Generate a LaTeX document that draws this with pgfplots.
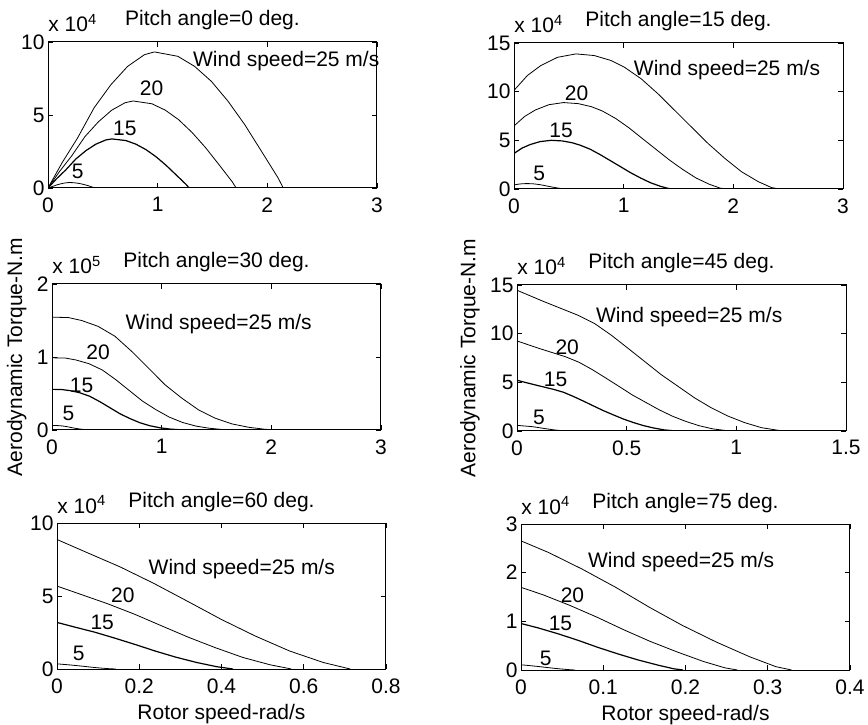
\documentclass[border=0pt]{standalone}
\usepackage{fontspec}
\setmainfont{Liberation Sans}
\usepackage{pgfplots}
\pgfplotsset{compat=1.18}
\pgfplotsset{mystyle/.style={
  width=164.5pt, height=73pt, scale only axis,
  anchor=south west,
  axis line style={line width=0.5pt, black},
  tick pos=both, tick align=inside, major tick length=2.5pt,
  tick style={line width=0.4pt, black},
  enlargelimits=false, scaled ticks=false,
  /pgf/number format/assume math mode=true,
  /pgf/number format/fixed,
  clip mode=individual,
  cycle list={{black, mark=none, line width=0.6pt, smooth, tension=0.35}},
  no markers,
  title style={anchor=base, yshift=2pt, inner sep=0pt},
  yticklabel style={inner sep=1.5pt},
  xticklabel style={inner sep=2pt, yshift=-2.5pt},
}}
\newcommand{\mult}[1]{\node[anchor=base west, inner sep=0pt, yshift=5pt] at (rel axis cs:0,1) {x 10\textsuperscript{#1}};}
\begin{document}
\fontsize{10.5}{12}\selectfont
\begin{tikzpicture}
\useasboundingbox (0,0) rectangle (434pt,362pt);
% ---------------- Pitch 0
\begin{axis}[mystyle, at={(24pt,268pt)}, xmin=0,xmax=3,ymin=0,ymax=10,
  xtick={0,1,2,3}, ytick={0,5,10}, title={Pitch angle=0 deg.}]
\addplot coordinates {(0,0) (0.13,1.75) (0.269,3.42) (0.421,5.50) (0.574,7.08) (0.726,8.33) (0.879,9.13) (0.970,9.32) (1.184,9.02) (1.337,8.33) (1.489,7.31) (1.642,5.94) (1.794,4.34) (1.947,2.51) (2.099,0.68) (2.145,0)};
\addplot coordinates {(0,0) (0.104,1.12) (0.215,2.19) (0.337,3.52) (0.459,4.53) (0.581,5.33) (0.703,5.84) (0.776,5.96) (0.947,5.77) (1.070,5.33) (1.191,4.68) (1.314,3.80) (1.435,2.78) (1.558,1.61) (1.679,0.435) (1.716,0)};
\addplot coordinates {(0,0) (0.078,0.63) (0.161,1.23) (0.253,1.98) (0.344,2.55) (0.436,3.00) (0.527,3.29) (0.582,3.36) (0.710,3.25) (0.802,3.00) (0.893,2.63) (0.985,2.14) (1.076,1.56) (1.168,0.90) (1.259,0.245) (1.287,0)};
\addplot coordinates {(0,0) (0.026,0.07) (0.054,0.137) (0.084,0.22) (0.115,0.283) (0.145,0.333) (0.176,0.365) (0.194,0.373) (0.237,0.361) (0.267,0.333) (0.298,0.292) (0.328,0.238) (0.359,0.174) (0.389,0.100) (0.420,0.027) (0.429,0)};
\node[anchor=west, inner sep=0pt] at (axis cs:1.32,8.7) {Wind speed=25 m/s};
\node[inner sep=0pt] at (axis cs:0.945,6.8) {20};
\node[inner sep=0pt] at (axis cs:0.70,4.1) {15};
\node[inner sep=0pt] at (axis cs:0.27,1.12) {5};
\mult{4}
\end{axis}
% ---------------- Pitch 15
\begin{axis}[mystyle, at={(257pt,267.5pt)}, xmin=0,xmax=3,ymin=0,ymax=15,
  xtick={0,1,2,3}, ytick={0,5,10,15}, title={Pitch angle=15 deg.}]
\addplot coordinates {(0,10.13) (0.122,11.66) (0.244,12.68) (0.397,13.53) (0.565,13.88) (0.732,13.71) (0.885,13.20) (1.007,12.51) (1.160,11.32) (1.312,9.79) (1.465,8.08) (1.617,6.38) (1.770,4.67) (1.923,3.14) (2.075,1.77) (2.228,0.75) (2.350,0.14) (2.426,0)};
\addplot coordinates {(0,6.48) (0.098,7.46) (0.195,8.12) (0.318,8.66) (0.452,8.88) (0.586,8.77) (0.708,8.45) (0.806,8.01) (0.928,7.24) (1.050,6.27) (1.172,5.17) (1.294,4.08) (1.416,2.99) (1.538,2.01) (1.660,1.13) (1.782,0.48) (1.880,0.09) (1.941,0)};
\addplot coordinates {(0,3.65) (0.073,4.20) (0.146,4.56) (0.238,4.87) (0.339,5.00) (0.439,4.94) (0.531,4.75) (0.604,4.50) (0.696,4.08) (0.787,3.52) (0.879,2.91) (0.970,2.30) (1.062,1.68) (1.154,1.13) (1.245,0.64) (1.337,0.27) (1.410,0.05) (1.456,0)};
\addplot coordinates {(0,0.405) (0.024,0.466) (0.049,0.507) (0.079,0.541) (0.113,0.555) (0.146,0.548) (0.177,0.528) (0.201,0.500) (0.232,0.453) (0.262,0.392) (0.293,0.323) (0.323,0.255) (0.354,0.187) (0.385,0.126) (0.415,0.071) (0.446,0.030) (0.470,0.006) (0.485,0)};
\node[anchor=west, inner sep=0pt] at (axis cs:1.09,12.2) {Wind speed=25 m/s};
\node[inner sep=0pt] at (axis cs:0.57,9.83) {20};
\node[inner sep=0pt] at (axis cs:0.43,6.06) {15};
\node[inner sep=0pt] at (axis cs:0.23,1.6) {5};
\mult{4}
\end{axis}
% ---------------- Pitch 30
\begin{axis}[mystyle, at={(26pt,147pt)}, xmin=0,xmax=3,ymin=0,ymax=2,
  xtick={0,1,2,3}, ytick={0,1,2}, title={Pitch angle=30 deg.},
  ylabel={Aerodynamic Torque-N.m}]
\addplot coordinates {(0,1.546) (0.15,1.54) (0.27,1.50) (0.42,1.42) (0.574,1.284) (0.726,1.078) (0.879,0.849) (1.031,0.619) (1.184,0.436) (1.337,0.275) (1.489,0.161) (1.642,0.083) (1.794,0.037) (1.947,0.009) (2.1,0)};
\addplot coordinates {(0,0.989) (0.12,0.986) (0.216,0.960) (0.336,0.909) (0.459,0.822) (0.581,0.690) (0.703,0.543) (0.825,0.396) (0.947,0.279) (1.070,0.176) (1.191,0.103) (1.314,0.053) (1.435,0.024) (1.558,0.006) (1.68,0)};
\addplot coordinates {(0,0.557) (0.09,0.554) (0.162,0.540) (0.252,0.511) (0.344,0.462) (0.436,0.388) (0.527,0.306) (0.619,0.223) (0.710,0.157) (0.802,0.099) (0.893,0.058) (0.985,0.030) (1.076,0.013) (1.168,0.003) (1.26,0)};
\addplot coordinates {(0,0.0618) (0.03,0.0616) (0.054,0.060) (0.084,0.0568) (0.115,0.0514) (0.145,0.0431) (0.176,0.034) (0.206,0.0248) (0.237,0.0174) (0.267,0.011) (0.298,0.0064) (0.328,0.0033) (0.359,0.0015) (0.389,0.0004) (0.42,0)};
\node[anchor=west, inner sep=0pt] at (axis cs:0.667,1.45) {Wind speed=25 m/s};
\node[inner sep=0pt] at (axis cs:0.42,1.065) {20};
\node[inner sep=0pt] at (axis cs:0.27,0.61) {15};
\node[inner sep=0pt] at (axis cs:0.15,0.23) {5};
\mult{5}
\end{axis}
% ---------------- Pitch 45
\begin{axis}[mystyle, at={(258.5pt,146.5pt)}, xmin=0,xmax=1.5,ymin=0,ymax=15,
  xtick={0,0.5,1,1.5}, ytick={0,5,10,15}, title={Pitch angle=45 deg.},
  ylabel={Aerodynamic Torque-N.m}]
\addplot coordinates {(0,14.46) (0.125,13.27) (0.277,11.9) (0.353,11.05) (0.429,9.86) (0.506,8.5) (0.582,7.14) (0.658,5.78) (0.734,4.59) (0.810,3.40) (0.886,2.38) (0.962,1.53) (1.039,0.85) (1.115,0.34) (1.191,0.07) (1.221,0)};
\addplot coordinates {(0,9.25) (0.1,8.49) (0.222,7.62) (0.282,7.07) (0.343,6.31) (0.405,5.44) (0.466,4.57) (0.526,3.70) (0.587,2.94) (0.648,2.18) (0.709,1.52) (0.770,0.98) (0.831,0.54) (0.892,0.22) (0.953,0.045) (0.977,0)};
\addplot coordinates {(0,5.21) (0.075,4.78) (0.166,4.28) (0.212,3.98) (0.257,3.55) (0.304,3.06) (0.349,2.57) (0.395,2.08) (0.440,1.65) (0.486,1.22) (0.532,0.86) (0.577,0.55) (0.623,0.31) (0.669,0.12) (0.715,0.025) (0.733,0)};
\addplot coordinates {(0,0.578) (0.025,0.531) (0.055,0.476) (0.071,0.442) (0.086,0.394) (0.101,0.34) (0.116,0.286) (0.132,0.231) (0.147,0.184) (0.162,0.136) (0.177,0.095) (0.192,0.061) (0.208,0.034) (0.223,0.014) (0.238,0.003) (0.244,0)};
\node[anchor=west, inner sep=0pt] at (axis cs:0.359,11.66) {Wind speed=25 m/s};
\node[inner sep=0pt] at (axis cs:0.229,8.6) {20};
\node[inner sep=0pt] at (axis cs:0.176,5.34) {15};
\node[inner sep=0pt] at (axis cs:0.1,1.39) {5};
\mult{4}
\end{axis}
% ---------------- Pitch 60
\begin{axis}[mystyle, at={(28.5pt,27.5pt)}, xmin=0,xmax=0.8,ymin=0,ymax=10,
  xtick={0,0.2,0.4,0.6,0.8}, ytick={0,5,10}, title={Pitch angle=60 deg.},
  xlabel={Rotor speed-rad/s}]
\addplot coordinates {(0,8.87) (0.070,8.01) (0.153,7.0) (0.235,5.87) (0.318,4.63) (0.4,3.39) (0.482,2.26) (0.565,1.24) (0.647,0.45) (0.713,0)};
\addplot coordinates {(0,5.68) (0.056,5.13) (0.122,4.48) (0.188,3.76) (0.254,2.96) (0.32,2.17) (0.386,1.45) (0.452,0.79) (0.518,0.29) (0.570,0)};
\addplot coordinates {(0,3.19) (0.042,2.88) (0.092,2.52) (0.141,2.11) (0.191,1.67) (0.24,1.22) (0.289,0.81) (0.339,0.45) (0.388,0.16) (0.428,0)};
\addplot coordinates {(0,0.355) (0.014,0.32) (0.031,0.28) (0.047,0.235) (0.064,0.185) (0.08,0.136) (0.096,0.09) (0.113,0.05) (0.129,0.018) (0.143,0)};
\node[anchor=west, inner sep=0pt] at (axis cs:0.222,6.83) {Wind speed=25 m/s};
\node[inner sep=0pt] at (axis cs:0.16,5.07) {20};
\node[inner sep=0pt] at (axis cs:0.11,3.17) {15};
\node[inner sep=0pt] at (axis cs:0.053,1.08) {5};
\mult{4}
\end{axis}
% ---------------- Pitch 75
\begin{axis}[mystyle, at={(260.5pt,27pt)}, xmin=0,xmax=0.4,ymin=0,ymax=3,
  xtick={0,0.1,0.2,0.3,0.4}, ytick={0,1,2,3}, title={Pitch angle=75 deg.},
  xlabel={Rotor speed-rad/s}]
\addplot coordinates {(0,2.653) (0.0334,2.415) (0.0741,2.075) (0.115,1.70) (0.156,1.29) (0.196,0.918) (0.237,0.578) (0.278,0.272) (0.31,0.068) (0.329,0)};
\addplot coordinates {(0,1.698) (0.0267,1.546) (0.0593,1.328) (0.092,1.088) (0.125,0.826) (0.157,0.588) (0.19,0.37) (0.222,0.174) (0.248,0.044) (0.263,0)};
\addplot coordinates {(0,0.955) (0.02,0.869) (0.0445,0.747) (0.069,0.612) (0.0936,0.464) (0.118,0.330) (0.142,0.208) (0.167,0.098) (0.186,0.024) (0.197,0)};
\addplot coordinates {(0,0.106) (0.0067,0.097) (0.0148,0.083) (0.023,0.068) (0.0312,0.052) (0.0392,0.037) (0.0474,0.023) (0.0556,0.011) (0.062,0.003) (0.0658,0)};
\node[anchor=west, inner sep=0pt] at (axis cs:0.081,2.22) {Wind speed=25 m/s};
\node[inner sep=0pt] at (axis cs:0.0626,1.53) {20};
\node[inner sep=0pt] at (axis cs:0.048,0.965) {15};
\node[inner sep=0pt] at (axis cs:0.030,0.24) {5};
\mult{4}
\end{axis}
\end{tikzpicture}
\end{document}
